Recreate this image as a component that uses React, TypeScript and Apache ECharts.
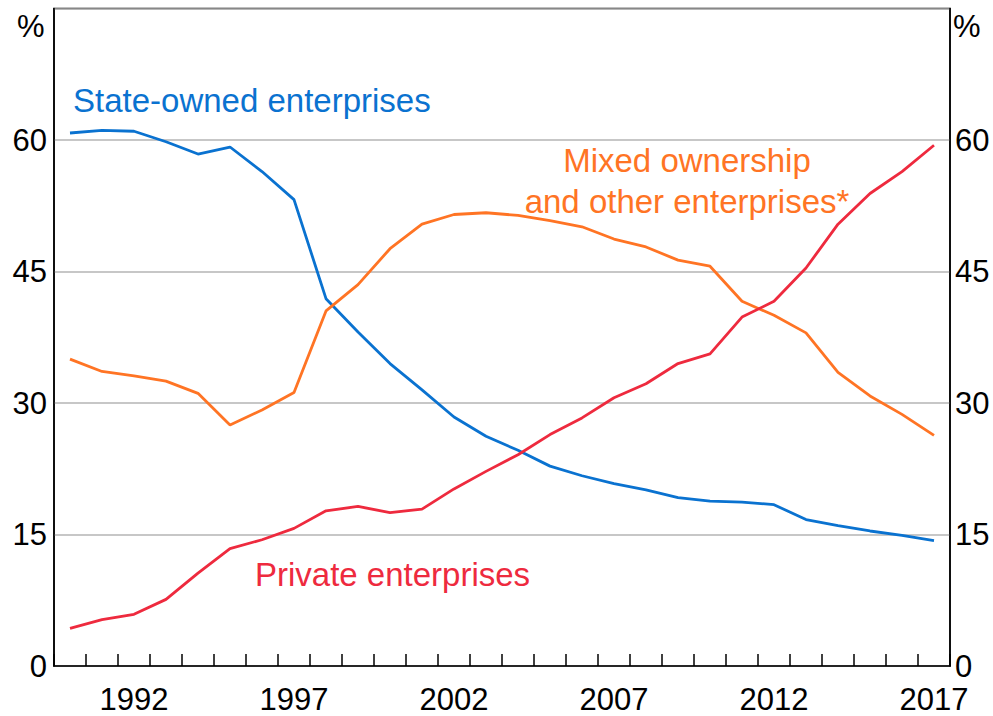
import React, { useEffect, useRef } from "react";
import * as echarts from "echarts";

const years: string[] = [
  "1990", "1991", "1992", "1993", "1994", "1995", "1996", "1997", "1998", "1999",
  "2000", "2001", "2002", "2003", "2004", "2005", "2006", "2007", "2008", "2009",
  "2010", "2011", "2012", "2013", "2014", "2015", "2016", "2017",
];

const stateOwned: number[] = [
  60.8, 61.1, 61.0, 59.8, 58.4, 59.2, 56.4, 53.2, 41.9, 38.1,
  34.5, 31.5, 28.4, 26.2, 24.6, 22.8, 21.7, 20.8, 20.1, 19.2,
  18.8, 18.7, 18.4, 16.7, 16.0, 15.4, 14.9, 14.3,
];

const mixedOther: number[] = [
  35.0, 33.6, 33.1, 32.5, 31.1, 27.5, 29.2, 31.2, 40.5, 43.5,
  47.6, 50.4, 51.5, 51.7, 51.4, 50.8, 50.1, 48.7, 47.8, 46.3,
  45.6, 41.6, 40.0, 38.0, 33.5, 30.8, 28.7, 26.3,
];

const privateEnt: number[] = [
  4.3, 5.3, 5.9, 7.6, 10.6, 13.4, 14.4, 15.7, 17.7, 18.2,
  17.5, 17.9, 20.2, 22.2, 24.1, 26.4, 28.3, 30.6, 32.2, 34.5,
  35.6, 39.8, 41.6, 45.4, 50.4, 53.9, 56.4, 59.4,
];

const yTicks: number[] = [0, 15, 30, 45, 60];
const labelYears: string[] = ["1992", "1997", "2002", "2007", "2012", "2017"];

const FONT = 'Arial, "Liberation Sans", sans-serif';
const BLUE = "#0A72D0";
const ORANGE = "#FF7424";
const RED = "#EE2A3E";

export default function App() {
  const ref = useRef<HTMLDivElement>(null);

  useEffect(() => {
    if (!ref.current) return;
    const chart = echarts.init(ref.current, undefined, { renderer: "svg" });

    const yAxisBase = (position: "left" | "right") => ({
      type: "value" as const,
      position,
      min: 0,
      max: 75,
      interval: 15,
      axisLine: { show: true, lineStyle: { color: "#000", width: 1.5 } },
      axisTick: { show: false },
      axisLabel: {
        color: "#000",
        fontSize: 31,
        fontFamily: FONT,
        margin: position === "left" ? 7 : 5,
        formatter: (v: number) => (yTicks.includes(v) ? String(v) : ""),
      },
      splitLine: {
        show: position === "left",
        lineStyle: { color: "#b4b4b4", width: 1.5 },
      },
    });

    const line = (name: string, data: number[], color: string) => ({
      name,
      type: "line" as const,
      data,
      showSymbol: false,
      symbol: "none",
      lineStyle: { color, width: 2.8 },
      itemStyle: { color },
      z: 3,
    });

    chart.setOption({
      animation: false,
      backgroundColor: "#fff",
      grid: {
        left: 54,
        right: 43,
        top: 8.5,
        bottom: 50,
        show: true,
        borderColor: "#000",
        borderWidth: 1.5,
        backgroundColor: "transparent",
      },
      xAxis: {
        type: "category",
        data: years,
        boundaryGap: true,
        axisLine: { show: true, lineStyle: { color: "#000", width: 1.5 } },
        axisTick: {
          show: true,
          inside: true,
          length: 12,
          interval: 0,
          lineStyle: { color: "#000", width: 1.5 },
        },
        axisLabel: {
          color: "#000",
          fontSize: 31,
          fontFamily: FONT,
          margin: 18,
          interval: (_i: number, v: string) => labelYears.includes(v),
        },
        splitLine: { show: false },
      },
      yAxis: [yAxisBase("left"), yAxisBase("right")],
      series: [
        line("State-owned enterprises", stateOwned, BLUE),
        line("Mixed ownership and other enterprises*", mixedOther, ORANGE),
        line("Private enterprises", privateEnt, RED),
      ],
      graphic: [
        {
          type: "text",
          left: 17,
          top: 11,
          style: { text: "%", fontSize: 31, fontFamily: FONT, fill: "#000" },
        },
        {
          type: "text",
          left: 953,
          top: 11,
          style: { text: "%", fontSize: 31, fontFamily: FONT, fill: "#000" },
        },
        {
          type: "text",
          x: 73,
          y: 100,
          style: {
            text: "State-owned enterprises",
            fontSize: 33,
            fontFamily: FONT,
            fill: BLUE,
            textAlign: "left",
            textVerticalAlign: "middle",
          },
        },
        {
          type: "text",
          x: 687,
          y: 181,
          style: {
            text: "Mixed ownership\nand other enterprises*",
            fontSize: 33,
            lineHeight: 41,
            fontFamily: FONT,
            fill: ORANGE,
            textAlign: "center",
            textVerticalAlign: "middle",
          },
        },
        {
          type: "text",
          x: 255,
          y: 574,
          style: {
            text: "Private enterprises",
            fontSize: 33,
            fontFamily: FONT,
            fill: RED,
            textAlign: "left",
            textVerticalAlign: "middle",
          },
        },
      ],
    });

    return () => chart.dispose();
  }, []);

  return (
    <div
      ref={ref}
      style={{ position: "fixed", left: 0, top: 0, width: 993, height: 716 }}
    />
  );
}
